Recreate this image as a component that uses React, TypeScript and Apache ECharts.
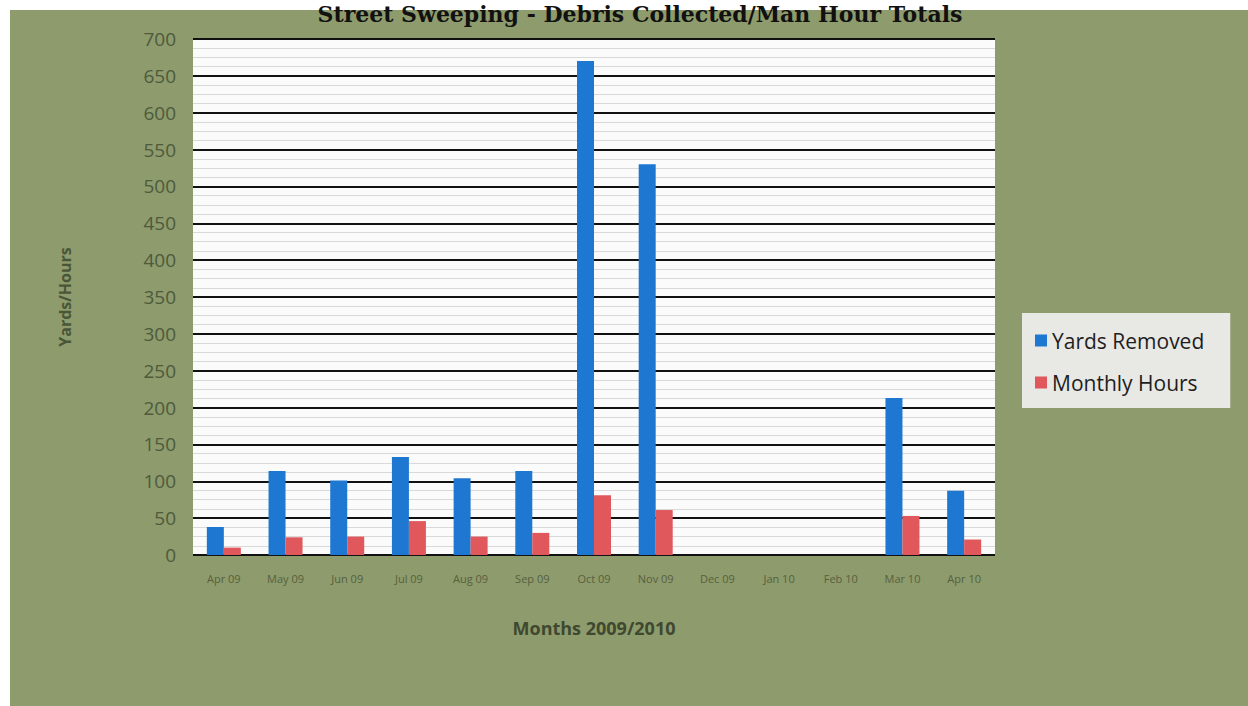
import React, { useEffect, useRef } from "react";
import * as echarts from "echarts";

const months = ["Apr 09", "May 09", "Jun 09", "Jul 09", "Aug 09", "Sep 09", "Oct 09", "Nov 09", "Dec 09", "Jan 10", "Feb 10", "Mar 10", "Apr 10"];
const yardsRemoved = [38, 114, 101, 133, 104, 114, 670, 530, 0, 0, 0, 213, 87];
const monthlyHours = [10, 24, 25, 46, 25, 30, 81, 61, 0, 0, 0, 53, 21];
const titleText = "Street Sweeping - Debris Collected/Man Hour Totals";

export default function App() {
  const ref = useRef<HTMLDivElement>(null);
  useEffect(() => {
    if (!ref.current) return;
    const chart = echarts.init(ref.current, undefined, { renderer: "svg" });
    chart.setOption({
      animation: false,
      backgroundColor: "#ffffff",
      graphic: [
        { type: "rect", z: -10, shape: { x: 10, y: 10, width: 1238, height: 696 }, style: { fill: "#8e9b6c" } },
        {
          type: "text",
          x: 640,
          y: 3,
          style: {
            text: titleText,
            font: "bold 22px 'DejaVu Serif', serif",
            fill: "#111111",
            align: "center",
            verticalAlign: "top",
          },
        },
      ],
      grid: { left: 193, right: 253, top: 39, bottom: 151, show: true, backgroundColor: "#fbfbfb", borderWidth: 0 },
      legend: {
        orient: "vertical",
        left: 1022,
        top: 313,
        backgroundColor: "#e8e8e5",
        padding: [17, 26, 15, 13],
        itemGap: 21,
        itemWidth: 12,
        itemHeight: 12,
        icon: "rect",
        textStyle: { fontSize: 21, color: "#1e1e1e", fontFamily: "Open Sans" },
        data: ["Yards Removed", "Monthly Hours"],
      },
      xAxis: {
        type: "category",
        data: months,
        name: "Months 2009/2010",
        nameLocation: "middle",
        nameGap: 64,
        nameTextStyle: { fontSize: 18, fontWeight: "bold", color: "#3e4930", fontFamily: "Open Sans" },
        axisLine: { show: false },
        axisTick: { show: false },
        axisLabel: { fontSize: 11, color: "#56613f", margin: 18, fontFamily: "Open Sans" },
      },
      yAxis: {
        type: "value",
        min: 0,
        max: 700,
        interval: 50,
        name: "Yards/Hours",
        nameLocation: "middle",
        nameGap: 120,
        nameTextStyle: { fontSize: 16, fontWeight: "bold", color: "#4a5638", fontFamily: "Open Sans" },
        axisLabel: { fontSize: 19, color: "#4d5a3c", margin: 17, fontFamily: "Open Sans" },
        axisLine: { show: false },
        axisTick: { show: false },
        splitLine: { lineStyle: { color: "#111111", width: 2 } },
        minorTick: { show: false, splitNumber: 4 },
        minorSplitLine: { show: true, lineStyle: { color: "#d9d9d9", width: 1 } },
      },
      series: [
        {
          name: "Yards Removed",
          type: "bar",
          data: yardsRemoved,
          barWidth: 17,
          barGap: "0%",
          itemStyle: { color: "#1e78d2" },
        },
        {
          name: "Monthly Hours",
          type: "bar",
          data: monthlyHours,
          barWidth: 17,
          barGap: "0%",
          itemStyle: { color: "#e0585c" },
        },
      ],
    });
    return () => chart.dispose();
  }, []);
  return <div ref={ref} style={{ position: "absolute", left: 0, top: 0, width: 1248, height: 706 }} />;
}
